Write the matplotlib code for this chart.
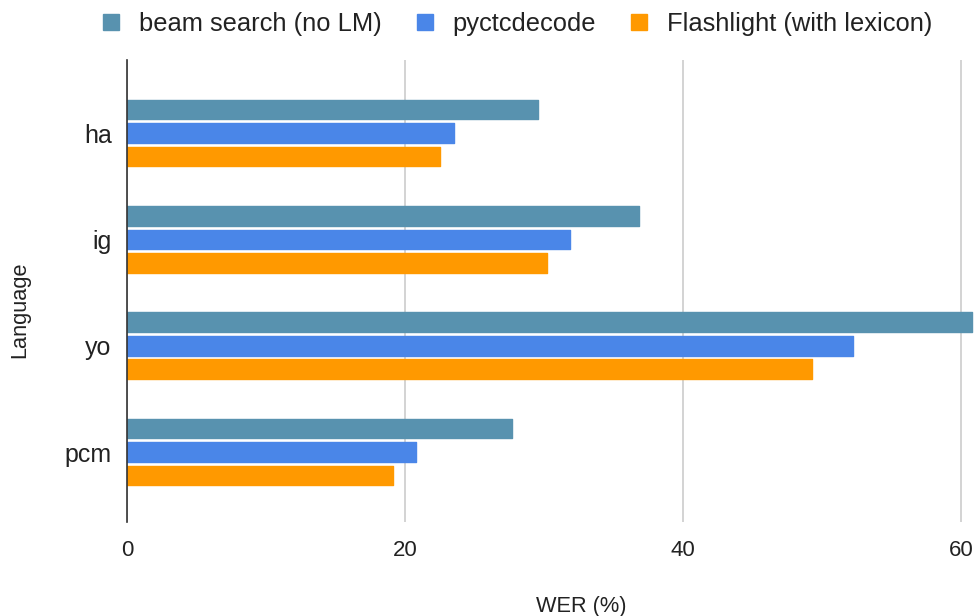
import matplotlib
matplotlib.use("Agg")
import matplotlib.pyplot as plt
import numpy as np

languages = ["ha", "ig", "yo", "pcm"]
series_names = ["beam search (no LM)", "pyctcdecode", "Flashlight (with lexicon)"]
beam = [29.6, 36.8, 60.8, 27.7]
pyctc = [23.5, 31.9, 52.2, 20.8]
flash = [22.5, 30.2, 49.3, 19.1]
colors = ["#5892AF", "#4A86E8", "#FF9900"]
xticks = [0, 20, 40, 60]

plt.rcParams['font.family'] = ['Liberation Sans', 'DejaVu Sans']

fig = plt.figure(figsize=(9.77, 6.16), dpi=100)
ax = fig.add_axes([0.13, 0.1526, 0.87, 0.75])

y = np.arange(len(languages))
pitch = 0.221
h = 0.185
handles = []
for i, (vals, name, c) in enumerate(zip([beam, pyctc, flash], series_names, colors)):
    offs = (i - 1) * pitch
    bars = ax.barh(y + offs, vals, height=h, color=c, label=name, zorder=3,
                   edgecolor=c, linewidth=1.0)
    for b in bars:
        b.set_joinstyle('round')
    handles.append(bars)

ax.set_xlim(0, 61.15)
ax.set_ylim(3.658, -0.687)
ax.set_yticks(y)
ax.set_yticklabels(languages, fontsize=18, color="#222222")
ax.set_xticks(xticks)
ax.set_xticklabels([str(t) for t in xticks], fontsize=16, color="#222222")
ax.tick_params(axis='both', length=0)
ax.tick_params(axis='x', pad=13)
ax.tick_params(axis='y', pad=11)
ax.grid(axis='x', color="#cccccc", linewidth=1.2, zorder=0)
for s in ["top", "right", "bottom"]:
    ax.spines[s].set_visible(False)
ax.spines["left"].set_color("#333333")
ax.spines["left"].set_linewidth(1.2)
ax.spines["left"].set_zorder(4)

fig.text(0.595, 0.016, "WER (%)", fontsize=15.7, ha="center", va="center", color="#222222")
fig.text(0.0205, 0.497, "Language", fontsize=15.7, rotation=90, ha="center", va="center", color="#222222")

leg = fig.legend(handles=handles, labels=series_names, loc="center", bbox_to_anchor=(0.530, 0.961),
                 ncol=3, frameon=False, fontsize=18.4, handlelength=0.63, handleheight=0.63,
                 handletextpad=0.78, columnspacing=1.37, borderpad=0.2)
for t in leg.get_texts():
    t.set_color("#222222")

fig.savefig("out.png", dpi=100)
